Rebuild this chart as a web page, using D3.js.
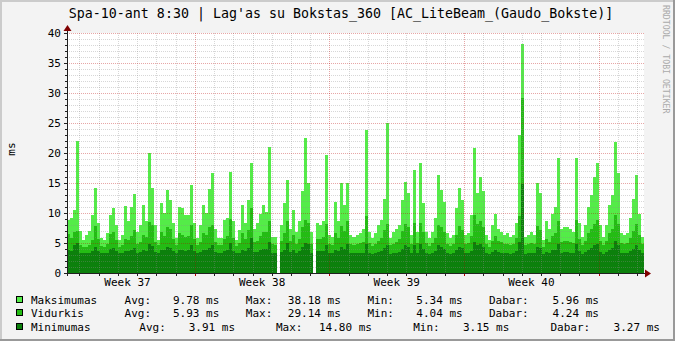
<!DOCTYPE html>
<html><head><meta charset="utf-8">
<script src="https://cdn.jsdelivr.net/npm/d3@7"></script>
<style>
html,body{margin:0;padding:0;background:#F3F3F3;}
svg{display:block;}
text{font-family:"DejaVu Sans Mono",monospace;}
</style></head>
<body><svg id="c" width="675" height="341"></svg>
<script>
// ---- data ----
const startTime = "2018-09-10T08:30:00Z";
const endTime = "2018-10-10T08:30:00Z";
const title = "Spa-10-ant 8:30 | Lag'as su Bokstas_360 [AC_LiteBeam_(Gaudo_Bokste)]";
const yLabel = "ms";
const yTicks = [0,5,10,15,20,25,30,35,40];
const weekLabels = ["Week 37","Week 38","Week 39","Week 40"];
const seriesNames = ["Maksimumas","Vidurkis","Minimumas"];
const maxValues = [8.8,9.2,10.5,22,7,5.5,6.3,7,9.7,14.1,8.3,5.8,5.5,6.6,9.7,10.8,8,5.5,6.3,11.2,8.6,11,13.2,6.9,8,11.3,8.6,20,14.1,8,5.5,11.6,10,13.8,12.2,8.3,5.8,11,10.8,9.7,9.7,14.7,8.3,5.8,8,11.3,10,14,
16.6,7.3,5.8,5.8,8.8,9.1,16.9,8.6,5.5,7.2,11.3,8.3,12.2,18.3,7.4,8.3,9.9,11.3,10.2,21,6,6,NaN,8,11.6,15.5,7.4,10.5,6.9,8.6,13.6,22.5,15,6.9,NaN,8.3,8,8.6,19.7,6.3,6,11.9,8.6,15,11.3,15,6.3,6,6.3,
6.6,7.4,23.8,6.9,5.8,6.6,8,8.8,12.4,25,5.8,6.9,7.4,8,12.2,15.2,13.3,6.3,17.2,6.9,18.3,11.6,6.9,5.8,6.9,9.1,16.3,13.8,11.9,6.6,5.8,6.3,10.8,14.1,12.2,6.3,6.6,9.7,20.8,13.3,16,13.6,6.3,5.5,8,9.9,7.4,6.9,6.3,
6.6,6,6.3,8.3,23,38.18,6,6.3,6.9,6.3,15,13.3,5.5,8.6,7.4,9.9,11,19.1,7.4,7.7,7.7,7.4,6.9,19.1,8.3,6,8,11,13,16,18.3,8,6,8,11.3,13,21.9,16.6,6.6,6.3,6.6,9.1,12.4,16.3,9.9,6];
const avgValues = [6.5,5.8,6.8,7,4.6,4.3,4.3,4.6,5.5,7.8,5.6,4.5,4.4,4.8,6.5,6.8,5.5,4.4,4.6,5.6,5.5,6.2,7.2,4.8,5.2,6.3,6,8.5,8,5.2,4.6,6.8,6.2,7.6,7.4,5.6,4.6,6.6,6.4,6,6.2,8,5.6,4.6,5.2,6.6,6.4,7.6,
8,5.2,4.6,4.6,5.6,6.2,9,5.8,4.5,5,6.6,5.6,7.2,10.8,5.2,5.4,6.2,6.8,6.8,8.6,4.8,4.7,NaN,5.4,6.6,8.6,5.4,6.4,4.9,5.6,7.6,8.8,8.4,4.9,NaN,5.6,5.6,6,8.2,4.8,4.6,6.6,5.8,7.8,7,8.6,4.8,4.6,4.8,
5,5.2,9.5,5,4.5,4.9,5.4,5.8,7.2,8.2,4.6,4.9,5.2,5.6,7,8.2,7.6,4.8,8.4,5,8.4,6.8,5,4.5,5,5.8,8,7.6,6.8,4.9,4.5,4.8,6.4,7.8,7.2,4.8,5,6.2,9.6,8.2,8.6,7.6,4.8,4.4,5.4,6.2,5.4,5.1,4.9,
4.9,4.6,4.8,5.8,9.5,29.14,4.6,4.8,5,4.8,7.8,7.2,4.4,5.6,5.2,6.2,6.6,8.6,5.2,5.4,5.4,5.2,5,8.8,5.6,4.6,5.4,6.6,7.4,8.2,8.8,5.4,4.6,5.4,6.6,7.4,9.6,8.2,5,4.8,5,5.8,7,8.2,6.4,4.8];
const minValues = [3.8,3.6,4.6,5,3.4,3.3,3.3,3.4,3.6,4.4,3.6,3.3,3.3,3.4,4,4.2,3.6,3.3,3.3,3.6,3.6,3.8,4.2,3.4,3.5,3.8,3.7,4.8,4.5,3.5,3.3,3.9,3.8,4.4,4.2,3.6,3.3,3.8,3.8,3.7,3.8,4.6,3.6,3.3,3.5,3.9,3.8,4.2,
4.6,3.5,3.3,3.3,3.6,3.8,5,3.6,3.3,3.4,3.9,3.6,4.2,5.8,3.5,3.5,3.8,4,4,5.2,3.4,3.3,NaN,3.5,3.9,5,3.5,3.8,3.3,3.6,4.4,5,4.8,3.3,NaN,3.6,3.6,3.7,4.6,3.3,3.3,3.9,3.6,4.4,4,4.8,3.3,3.3,3.3,
3.4,3.4,4.8,3.4,3.2,3.3,3.5,3.6,4.2,4.6,3.2,3.3,3.4,3.5,4,4.6,4.3,3.3,4.7,3.3,4.8,4,3.3,3.2,3.3,3.6,4.6,4.3,4,3.3,3.2,3.3,3.8,4.4,4.2,3.3,3.3,3.7,5.2,4.6,4.8,4.3,3.3,3.15,3.5,3.8,3.5,3.4,3.3,
3.3,3.2,3.3,3.6,5.2,14.8,3.2,3.3,3.3,3.3,4.4,4.2,3.2,3.5,3.4,3.8,3.9,4.8,3.4,3.5,3.5,3.4,3.3,4.9,3.6,3.2,3.5,3.9,4.2,4.6,4.9,3.5,3.2,3.5,3.9,4.2,5.3,4.6,3.3,3.3,3.3,3.6,4,4.6,3.8,3.3];
const legendRows = [
  {name:"Maksimumas", avg:"9.78", max:"38.18", min:"5.34", cur:"5.96"},
  {name:"Vidurkis",   avg:"5.93", max:"29.14", min:"4.04", cur:"4.24"},
  {name:"Minimumas",  avg:"3.91", max:"14.80", min:"3.15", cur:"3.27"}
];
const statLabels = ["Avg:","Max:","Min:","Dabar:"];
const unit = "ms";
const colors = ["#54EC48","#24BC14","#0C800C"];

// ---- layout ----
const L=67,R=644,T=33,B=273;
const svg=d3.select("#c");
const t0=new Date(startTime), t1=new Date(endTime);
const x=d3.scaleUtc().domain([t0,t1]).range([L,R]);
const y=d3.scaleLinear().domain([0,40]).range([B,T]);
const N=maxValues.length;
const step=(t1-t0)/N;
function pts(arr){
  const out=[];
  arr.forEach((v,i)=>{
    out.push({t:new Date(+t0+i*step),v});
    out.push({t:new Date(+t0+(i+1)*step),v});
  });
  return out;
}

// background & borders
svg.append("rect").attr("width",675).attr("height",341).attr("fill","#F3F3F3");
svg.append("rect").attr("x",0).attr("y",0).attr("width",675).attr("height",2).attr("fill","#CBCBCB");
svg.append("rect").attr("x",0).attr("y",0).attr("width",2).attr("height",341).attr("fill","#CBCBCB");
svg.append("rect").attr("x",673).attr("y",0).attr("width",2).attr("height",341).attr("fill","#999");
svg.append("rect").attr("x",0).attr("y",339).attr("width",675).attr("height",2).attr("fill","#999");
svg.append("rect").attr("x",L).attr("y",T).attr("width",R-L).attr("height",B-T).attr("fill","#fff");

// areas
const area=d3.area().defined(d=>!isNaN(d.v)).x(d=>x(d.t)).y0(y(0)).y1(d=>y(d.v));
[maxValues,avgValues,minValues].forEach((arr,k)=>{
  svg.append("path").attr("d",area(pts(arr))).attr("fill",colors[k]).attr("shape-rendering","crispEdges");
});

// grid
const g=svg.append("g").attr("shape-rendering","crispEdges");
const days=d3.utcDay.range(d3.utcDay.ceil(t0),t1);
const weeks=d3.utcMonday.range(d3.utcMonday.ceil(t0),t1);
const minorY=d3.range(1,41).filter(v=>v%5!==0);
minorY.forEach(v=>{
  g.append("line").attr("x1",L).attr("x2",R).attr("y1",y(v)+0.5).attr("y2",y(v)+0.5)
   .attr("stroke","rgba(140,140,140,0.35)").attr("stroke-dasharray","1,1");
});
days.filter(d=>d.getUTCDay()!==1).forEach(d=>{
  const xx=Math.round(x(d))+0.5;
  g.append("line").attr("x1",xx).attr("x2",xx).attr("y1",T).attr("y2",B)
   .attr("stroke","rgba(140,140,140,0.35)").attr("stroke-dasharray","1,1");
});
yTicks.filter(v=>v>0).forEach(v=>{
  g.append("line").attr("x1",L).attr("x2",R).attr("y1",y(v)+0.5).attr("y2",y(v)+0.5)
   .attr("stroke","rgba(187,0,0,0.35)").attr("stroke-dasharray","1,1");
});
weeks.forEach(d=>{
  const xx=Math.round(x(d))+0.5;
  g.append("line").attr("x1",xx).attr("x2",xx).attr("y1",T).attr("y2",B)
   .attr("stroke","rgba(187,0,0,0.35)").attr("stroke-dasharray","1,1");
});

// axes
const ax=svg.append("g").attr("shape-rendering","crispEdges");
ax.append("line").attr("x1",L-3).attr("x2",R+3).attr("y1",B+0.5).attr("y2",B+0.5).attr("stroke","#202020");
ax.append("line").attr("x1",L+0.5).attr("x2",L+0.5).attr("y1",B+3).attr("y2",T-4).attr("stroke","#202020");
d3.range(0,41).forEach(v=>{
  const big=v%5===0;
  ax.append("line").attr("x1",L-(big?3:2)).attr("x2",L).attr("y1",y(v)+0.5).attr("y2",y(v)+0.5).attr("stroke","#202020");
});
days.forEach(d=>{
  const xx=Math.round(x(d))+0.5;
  ax.append("line").attr("x1",xx).attr("x2",xx).attr("y1",B+1).attr("y2",B+3).attr("stroke","#202020");
});
weeks.forEach(d=>{
  const xx=Math.round(x(d))+0.5;
  ax.append("line").attr("x1",xx).attr("x2",xx).attr("y1",B+1).attr("y2",B+3).attr("stroke","#bb0000");
});
svg.append("path").attr("d",`M${R+1},${B-3.5}L${R+7},${B+0.5}L${R+1},${B+4.5}Z`).attr("fill","#800000");
svg.append("path").attr("d",`M${L-3.5},${T-2}L${L+0.5},${T-8}L${L+4.5},${T-2}Z`).attr("fill","#800000");

// y labels
const tf=svg.append("g").attr("font-size","11px").attr("fill","#000");
yTicks.forEach(v=>{
  tf.append("text").attr("x",L-6).attr("y",y(v)+4).attr("text-anchor","end").text(v);
});
tf.append("text").attr("transform",`translate(15,149) rotate(-90)`).attr("text-anchor","middle").text(yLabel);
weeks.forEach((d,i)=>{
  const mid=new Date(+d-3.5*864e5);
  tf.append("text").attr("x",x(mid)).attr("y",286).attr("text-anchor","middle").text(weekLabels[i]);
});
svg.append("text").attr("x",341).attr("y",18).attr("text-anchor","middle").attr("font-size","13.3px").text(title);
svg.append("text").attr("transform","translate(663,5) rotate(90)").attr("font-size","8.2px").attr("fill","#aaa").text("RRDTOOL / TOBI OETIKER");

// legend
const rowY=[304,317,331];
const cols=[
  [124.6,173,245.8,287.8,367.4,416.3,489,552.6],
  [124.6,173,245.8,287.8,367.4,416.3,489,552.6],
  [139.3,188.7,276,318.9,413.2,463,550.4,613.6]
];
legendRows.forEach((r,i)=>{
  const yy=rowY[i];
  svg.append("rect").attr("x",16.5).attr("y",yy-7.5).attr("width",6).attr("height",6)
    .attr("fill",colors[i]).attr("stroke","#000").attr("stroke-width",1);
  const c=cols[i];
  const vals=[r.avg,r.max,r.min,r.cur];
  tf.append("text").attr("x",31).attr("y",yy).text(r.name);
  statLabels.forEach((lab,j)=>{
    tf.append("text").attr("x",c[2*j]).attr("y",yy).text(lab);
    tf.append("text").attr("x",c[2*j+1]).attr("y",yy).attr("xml:space","preserve").text(vals[j]+" "+unit);
  });
});
</script></body></html>
